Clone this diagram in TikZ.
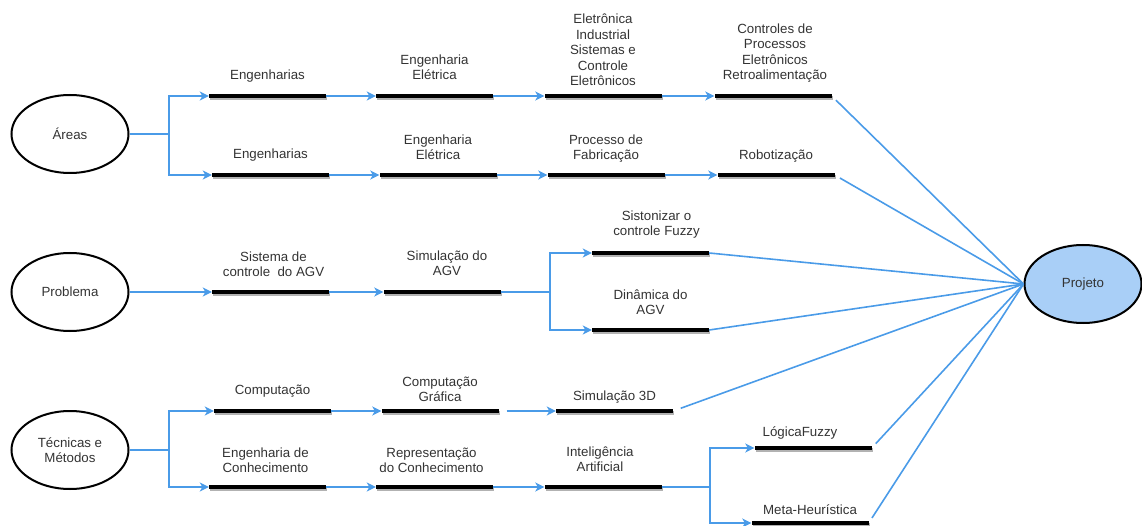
\documentclass[tikz,border=0pt]{standalone}
\usepackage{fontspec}
\setmainfont{Liberation Sans}
\usetikzlibrary{arrows.meta,shapes.geometric,shadows}
\definecolor{flow}{RGB}{74,155,232}
\definecolor{projfill}{RGB}{169,207,247}
\definecolor{ink}{RGB}{51,51,51}
\begin{document}
\begin{tikzpicture}[x=1pt,y=-1pt,
  every node/.style={font=\fontsize{13.3}{15.5}\selectfont, text=ink},
  oval/.style={ellipse, draw=black, line width=2pt, minimum width=117pt,
    minimum height=78pt, inner sep=0pt, align=center},
  bar/.style={rectangle, fill=black, minimum width=117pt, minimum height=4pt,
    inner sep=0pt, drop shadow={shadow xshift=1pt,shadow yshift=-2pt,fill=black!30,opacity=1}},
  lbl/.style={anchor=south, align=center, inner sep=0pt, text depth=0pt},
  link/.style={draw=flow, line width=1.6pt},
  arr/.style={link, -{Stealth[length=9pt,width=9pt,inset=2.5pt]}},
]
\useasboundingbox (0,0) rectangle (1142,526);

% start and goal ellipses
\node[oval] (areas) at (70,134) {Áreas};
\node[oval] (prob) at (70,292) {Problema};
\node[oval] (tec) at (70,450) {Técnicas e\\Métodos};
\node[oval, fill=projfill] (proj) at (1083,284) {Projeto};

% topic bars
\node[bar] (b1) at (267.5,96) {};
\node[bar] (b2) at (434.5,96) {};
\node[bar] (b3) at (603,96) {};
\node[bar] (b4) at (773,96) {};
\node[bar] (b5) at (270.5,175) {};
\node[bar] (b6) at (438,175) {};
\node[bar] (b7) at (606,175) {};
\node[bar] (b8) at (776,175) {};
\node[bar] (b9) at (270.5,292) {};
\node[bar] (b10) at (442,292) {};
\node[bar] (b11) at (650.5,253) {};
\node[bar] (b12) at (650.5,330) {};
\node[bar] (b13) at (272.5,411) {};
\node[bar] (b14) at (440,411) {};
\node[bar] (b15) at (614.5,411) {};
\node[bar] (b16) at (267.5,487) {};
\node[bar] (b17) at (434.5,487) {};
\node[bar] (b18) at (603,487) {};
\node[bar] (b19) at (813,448) {};
\node[bar] (b20) at (810,523) {};

% bar captions
\node[lbl] (l1) at ([yshift=16pt]b1.center) {Engenharias};
\node[lbl] (l2) at ([yshift=16pt]b2.center) {Engenharia\\Elétrica};
\node[lbl] (l3) at ([yshift=10pt]b3.center) {Eletrônica\\Industrial\\Sistemas e\\Controle\\Eletrônicos};
\node[lbl] (l4) at ([xshift=2pt,yshift=16pt]b4.center) {Controles de\\Processos\\Eletrônicos\\Retroalimentação};
\node[lbl] (l5) at ([yshift=16pt]b5.center) {Engenharias};
\node[lbl] (l6) at ([yshift=15pt]b6.center) {Engenharia\\Elétrica};
\node[lbl] (l7) at ([yshift=15pt]b7.center) {Processo de\\Fabricação};
\node[lbl] (l8) at ([yshift=15pt]b8.center) {Robotização};
\node[lbl] (l9) at ([xshift=3pt,yshift=15pt]b9.center) {Sistema de\\controle~~do AGV};
\node[lbl] (l10) at ([xshift=5pt,yshift=16pt]b10.center) {Simulação do\\AGV};
\node[lbl] (l11) at ([xshift=6pt,yshift=17pt]b11.center) {Sistonizar o\\controle Fuzzy};
\node[lbl] (l12) at ([yshift=15pt]b12.center) {Dinâmica do\\AGV};
\node[lbl] (l13) at ([yshift=16pt]b13.center) {Computação};
\node[lbl] (l14) at ([yshift=9pt]b14.center) {Computação\\Gráfica};
\node[lbl] (l15) at ([yshift=10pt]b15.center) {Simulação 3D};
\node[lbl] (l16) at ([xshift=-2pt,yshift=14pt]b16.center) {Engenharia de\\Conhecimento};
\node[lbl] (l17) at ([xshift=-3pt,yshift=14pt]b17.center) {Representação\\do Conhecimento};
\node[lbl] (l18) at ([xshift=-3pt,yshift=15pt]b18.center) {Inteligência\\Artificial};
\node[lbl] (l19) at ([xshift=-13pt,yshift=11pt]b19.center) {LógicaFuzzy};
\node[lbl] (l20) at ([yshift=8pt]b20.center) {Meta-Heurística};

% branch points
\coordinate (j1) at (169,134);
\coordinate (j2) at (550,292);
\coordinate (j3) at (169,450);
\coordinate (j4) at (710,487);

% Áreas
\draw[link] (areas.east) -- (j1);
\draw[arr] (j1) |- (b1.west);
\draw[arr] (j1) |- (b5.west);
\draw[arr] (b1.east) -- (b2.west);
\draw[arr] (b2.east) -- (b3.west);
\draw[arr] (b3.east) -- (b4.west);
\draw[arr] (b5.east) -- (b6.west);
\draw[arr] (b6.east) -- (b7.west);
\draw[arr] (b7.east) -- (b8.west);

% Problema
\draw[arr] (prob.east) -- (b9.west);
\draw[arr] (b9.east) -- (b10.west);
\draw[link] (b10.east) -- (j2);
\draw[arr] (j2) |- (b11.west);
\draw[arr] (j2) |- (b12.west);

% Técnicas e Métodos
\draw[link] (tec.east) -- (j3);
\draw[arr] (j3) |- (b13.west);
\draw[arr] (j3) |- (b16.west);
\draw[arr] (b13.east) -- (b14.west);
\draw[arr, shorten <=8pt] (b14.east) -- (b15.west);
\draw[arr] (b16.east) -- (b17.west);
\draw[arr] (b17.east) -- (b18.west);
\draw[link] (b18.east) -- (j4);
\draw[arr] (j4) |- (b19.west);
\draw[arr] (j4) |- (b20.west);

% everything converges on Projeto
\draw[link, shorten <=6pt] (b4.east) -- (proj.west);
\draw[link, shorten <=6pt] (b8.east) -- (proj.west);
\draw[link] (b11.east) -- (proj.west);
\draw[link] (b12.east) -- (proj.west);
\draw[link, shorten <=8pt] (b15.east) -- (proj.west);
\draw[link, shorten <=6pt] (b19.east) -- (proj.west);
\draw[link, shorten <=6pt] (b20.east) -- (proj.west);
\end{tikzpicture}
\end{document}
